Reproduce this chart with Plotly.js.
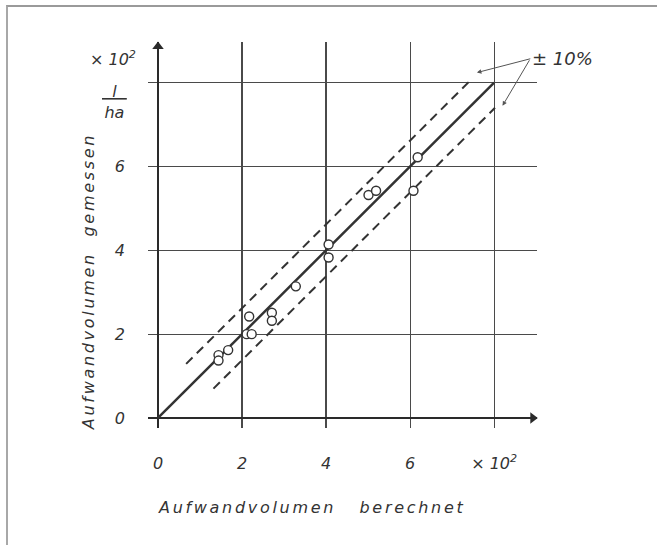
<!DOCTYPE html>
<html>
<head>
<meta charset="utf-8">
<script src="https://cdn.plot.ly/plotly-3.0.1.min.js"></script>
<style>
  html, body { margin: 0; padding: 0; background: #fff; }
  #wrap { position: relative; width: 657px; height: 545px; }
  #chart { width: 657px; height: 545px; }
  #frame { position: absolute; left: 6px; top: 5px; right: -4px; bottom: -4px;
           border-top: 2px solid #9a9a9a; border-left: 2px solid #a8a8a8; pointer-events: none; }
</style>
</head>
<body>
<div id="wrap">
  <div id="chart"></div>
  <div id="frame"></div>
</div>
<script>
// ---- data (×10² l/ha) ----
const measuredX = [1.44, 1.44, 1.67, 2.17, 2.11, 2.23, 2.71, 2.71, 3.28, 4.06, 4.06, 5.01, 5.19, 6.08, 6.18];
const measuredY = [1.50, 1.37, 1.62, 2.42, 2.00, 2.00, 2.51, 2.32, 3.14, 4.14, 3.83, 5.32, 5.42, 5.42, 6.22];

const idealX = [0, 8];
const idealY = [0, 8];

const upperX = [0.67, 7.45];
const upperY = [1.29, 8.07];
const lowerX = [1.32, 8.02];
const lowerY = [0.70, 7.40];

const xTickVals = [0, 2, 4, 6, 8];
const xTickText = ['0', '2', '4', '6', '× 10<sup>2</sup>'];
const yTickVals = [0, 2, 4, 6];
const yTickText = ['0', '2', '4', '6'];

const xTitle = 'Aufwandvolumen\u00a0\u00a0\u00a0berechnet';
const yTitle = 'Aufwandvolumen\u00a0\u00a0gemessen';
const toleranceLabel = '± 10%';
const yUnitScale = '× 10<sup>2</sup>';
const yUnit = '<u>\u00a0\u00a0l\u00a0\u00a0</u><br>ha';

// ---- style ----
const ink = '#333333';
const fontBase = { family: 'DejaVu Sans, sans-serif', color: ink, style: 'italic' };
const spaced = (t, s) => '<span style="letter-spacing:' + s + 'px">' + t + '</span>';

const traces = [
  { x: upperX, y: upperY, mode: 'lines', line: { color: ink, width: 2, dash: '9px,6px' }, hoverinfo: 'skip' },
  { x: lowerX, y: lowerY, mode: 'lines', line: { color: ink, width: 2, dash: '9px,6px' }, hoverinfo: 'skip' },
  { x: idealX, y: idealY, mode: 'lines', line: { color: ink, width: 2.5 }, hoverinfo: 'skip' },
  { x: measuredX, y: measuredY, mode: 'markers',
    marker: { symbol: 'circle', size: 9, color: '#ffffff', line: { color: ink, width: 1.4 } } },
  // arrowheads at the ends of the axes
  { x: [8.92, 0], y: [0, 8.86], mode: 'markers', hoverinfo: 'skip', cliponaxis: false,
    marker: { symbol: ['triangle-right', 'triangle-up'], size: 10, color: '#2a2a2a' } }
];

const axisCommon = {
  showgrid: true, gridcolor: '#4a4a4a', gridwidth: 1.2,
  zeroline: true, zerolinecolor: '#2a2a2a', zerolinewidth: 1.8,
  showline: false, ticks: '', tickmode: 'array',
  tickfont: Object.assign({}, fontBase, { size: 16 }),
  fixedrange: true
};

const layout = {
  width: 657, height: 545,
  margin: { l: 148, r: 120, t: 42, b: 117 },
  paper_bgcolor: '#ffffff', plot_bgcolor: '#ffffff',
  showlegend: false,
  xaxis: Object.assign({}, axisCommon, {
    range: [-0.238, 9.02], tickvals: xTickVals, ticktext: xTickText,
    ticklabelstandoff: 24
  }),
  yaxis: Object.assign({}, axisCommon, {
    range: [-0.239, 8.97], tickvals: yTickVals, ticktext: yTickText,
    ticklabelstandoff: 22,
    minor: { tick0: 0, dtick: 2, showgrid: true, gridcolor: '#4a4a4a', gridwidth: 1.2, ticks: '' }
  }),
  annotations: [
    // ±10% label with its pointers
    { x: 7.59, y: 8.24, ax: 8.86, ay: 8.57, xref: 'x', yref: 'y', axref: 'x', ayref: 'y',
      xanchor: 'left', yanchor: 'middle', text: toleranceLabel,
      font: Object.assign({}, fontBase, { size: 18 }),
      showarrow: true, arrowhead: 2, arrowsize: 0.9, arrowwidth: 1, arrowcolor: '#555', standoff: 0, startstandoff: 0 },
    { x: 8.2, y: 7.45, ax: 8.86, ay: 8.57, xref: 'x', yref: 'y', axref: 'x', ayref: 'y', text: '',
      showarrow: true, arrowhead: 2, arrowsize: 0.9, arrowwidth: 1, arrowcolor: '#555' },
    // y unit
    { x: -0.09, y: 0.958, xref: 'paper', yref: 'paper', xanchor: 'center', yanchor: 'middle',
      text: yUnitScale, showarrow: false, font: Object.assign({}, fontBase, { size: 16 }) },
    { x: -0.085, y: 0.845, xref: 'paper', yref: 'paper', xanchor: 'center', yanchor: 'middle',
      text: yUnit, showarrow: false, font: Object.assign({}, fontBase, { size: 16 }) },
    // axis titles
    { x: 0.42, y: -0.207, xref: 'paper', yref: 'paper', xanchor: 'center', yanchor: 'middle',
      text: spaced(xTitle, 2.7), showarrow: false, font: Object.assign({}, fontBase, { size: 16 }) },
    { x: -0.154, y: 0.378, xref: 'paper', yref: 'paper', xanchor: 'center', yanchor: 'middle',
      textangle: -90, text: spaced(yTitle, 2.7), showarrow: false,
      font: Object.assign({}, fontBase, { size: 16 }) }
  ]
};

Plotly.newPlot('chart', traces, layout, { displayModeBar: false, staticPlot: true });
</script>
</body>
</html>
